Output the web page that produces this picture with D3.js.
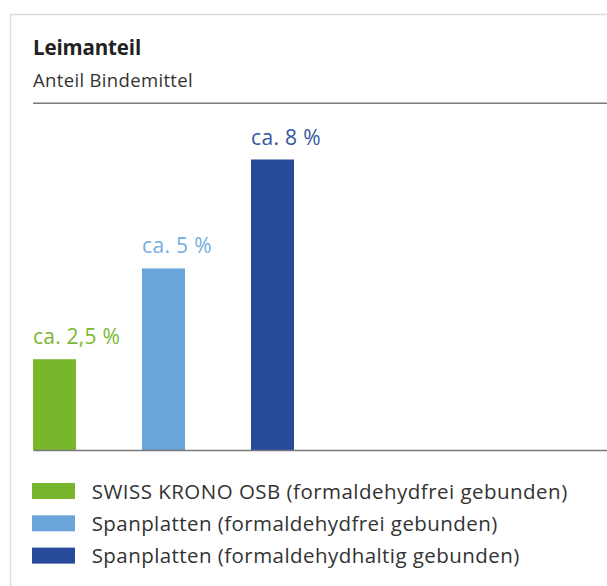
<!DOCTYPE html>
<html>
<head>
<meta charset="utf-8">
<script src="https://cdn.jsdelivr.net/npm/d3@7"></script>
<style>
  html, body { margin: 0; padding: 0; background: #fff; }
  svg { display: block; }
  text { font-family: "Open Sans", "Roboto", sans-serif; }
</style>
</head>
<body>
<script>
// ---- data ----
const categories = [
  "SWISS KRONO OSB (formaldehydfrei gebunden)",
  "Spanplatten (formaldehydfrei gebunden)",
  "Spanplatten (formaldehydhaltig gebunden)"
];
const values = [2.5, 5, 8];
const valueLabels = ["ca. 2,5 %", "ca. 5 %", "ca. 8 %"];
const barColors = ["#78b72b", "#6aa5da", "#274a9b"];
const labelColors = ["#7ab833", "#76ade0", "#3556a0"];
const title = "Leimanteil";
const subtitle = "Anteil Bindemittel";

// ---- layout ----
const W = 607, H = 586;
const svg = d3.select("body").append("svg").attr("width", W).attr("height", H);

// card frame
svg.append("rect")
  .attr("x", 10.5).attr("y", 14.5).attr("width", 800).attr("height", 800)
  .attr("fill", "#fff").attr("stroke", "#dcdcdc").attr("stroke-width", 1.5);

function fitText(sel, target) {
  sel.each(function() {
    const n = this.getComputedTextLength();
    const chars = this.textContent.length;
    if (chars > 1) d3.select(this).attr("letter-spacing", ((target - n) / (chars)).toFixed(3));
  });
}

svg.append("text").attr("x", 33).attr("y", 55)
  .attr("font-size", 20.5).attr("font-weight", 700).attr("fill", "#222")
  .text(title).call(fitText, 108);

svg.append("text").attr("x", 33).attr("y", 87)
  .attr("font-size", 18.5).attr("fill", "#333")
  .text(subtitle).call(fitText, 160);

// top rule
svg.append("line").attr("x1", 33).attr("x2", W).attr("y1", 103.3).attr("y2", 103.3)
  .attr("stroke", "#7a7a7a").attr("stroke-width", 1.6);

const x = d3.scaleBand().domain(categories).range([33, 294]).paddingInner(0.6055).paddingOuter(0);
const y = d3.scaleLinear().domain([0, 8]).range([450, 159.5]);

const valueWidths = [87, 70, 70];
const g = svg.append("g");
g.selectAll("rect.bar").data(values).join("rect")
  .attr("class", "bar")
  .attr("x", (d, i) => x(categories[i]))
  .attr("width", x.bandwidth())
  .attr("y", d => y(d))
  .attr("height", d => y(0) - y(d))
  .attr("fill", (d, i) => barColors[i]);

g.selectAll("text.val").data(values).join("text")
  .attr("class", "val")
  .attr("x", (d, i) => x(categories[i]))
  .attr("y", d => y(d) - 15)
  .attr("font-size", 21)
  .attr("fill", (d, i) => labelColors[i])
  .text((d, i) => valueLabels[i])
  .each(function(d, i) { d3.select(this).call(fitText, valueWidths[i]); });

// baseline axis
const axis = d3.axisBottom(d3.scaleLinear().range([33, W])).ticks(0).tickSize(0).tickSizeOuter(0);
const ax = svg.append("g").attr("transform", `translate(0,${y(0)})`).call(axis);
ax.select(".domain").attr("stroke", "#7a7a7a").attr("stroke-width", 1.6);
ax.selectAll(".tick").remove();

// legend
const lg = svg.append("g");
const rowH = 32.3;
const legendWidths = [476, 406, 428];
categories.forEach((c, i) => {
  const row = lg.append("g").attr("transform", `translate(0,${483 + i * rowH})`);
  row.append("rect").attr("x", 32).attr("y", 0).attr("width", 43).attr("height", 16)
    .attr("fill", barColors[i]);
  row.append("text").attr("x", 91.7).attr("y", 15.5)
    .attr("font-size", 20.5).attr("fill", "#333")
    .text(c).call(fitText, legendWidths[i]);
});
</script>
</body>
</html>
